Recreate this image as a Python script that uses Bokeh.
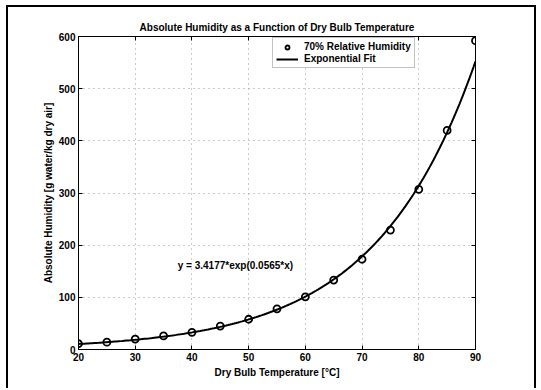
import numpy as np
from bokeh.plotting import figure
from bokeh.models import (Range1d, LinearAxis, Label, Legend, LegendItem, ColumnDataSource,
                          FixedTicker, CustomJSTickFormatter)
from bokeh.embed import file_html
from bokeh.resources import INLINE

# Data
temp_c = [20, 25, 30, 35, 40, 45, 50, 55, 60, 65, 70, 75, 80, 85, 90]
abs_humidity = [11, 14, 20, 26, 33, 45, 58, 78, 101, 133, 173, 229, 307, 420, 592]
fit_coeffs = [3.4177, 0.0565]  # y = a*exp(b*x), as printed on the chart
x_ticks = [20, 30, 40, 50, 60, 70, 80, 90]
y_ticks = [0, 100, 200, 300, 400, 500, 600]

FONT = "Liberation Sans"

fit_x = np.linspace(20, 90, 200)
fit_y = fit_coeffs[0] * np.exp(fit_coeffs[1] * fit_x)

p = figure(width=530, height=383, output_backend="svg", toolbar_location=None,
           x_range=Range1d(20, 90), y_range=Range1d(0, 600),
           min_border_left=70, min_border_right=63, min_border_top=29, min_border_bottom=41)
p.styles = {"margin-left": "6px", "margin-top": "5px",
            "border-left": "2px solid black", "border-top": "2px solid black",
            "border-right": "2px solid black"}

p.title.text = "Absolute Humidity as a Function of Dry Bulb Temperature"
p.title.align = "center"
p.title.text_font = FONT
p.title.text_font_size = "10px"
p.title.text_font_style = "bold"
p.title.text_color = "black"
p.title.standoff = 7

p.outline_line_color = "black"
p.outline_line_width = 1

for ax in (p.xaxis[0], p.yaxis[0]):
    ax.major_label_text_font = FONT
    ax.major_label_text_font_size = "10px"
    ax.major_label_text_font_style = "bold"
    ax.major_label_text_color = "black"
    ax.axis_label_text_font = FONT
    ax.axis_label_text_font_size = "10px"
    ax.axis_label_text_font_style = "bold"
    ax.axis_label_text_color = "black"
    ax.axis_line_color = "black"
    ax.major_tick_in = 4
    ax.major_tick_out = 0
    ax.minor_tick_line_color = None
    ax.major_label_standoff = 3

p.xaxis[0].ticker = FixedTicker(ticks=x_ticks)
p.yaxis[0].ticker = FixedTicker(ticks=y_ticks)
p.xaxis[0].axis_label = "Dry Bulb Temperature [°C]"
p.yaxis[0].axis_label = "Absolute Humidity [g water/kg dry air]"
p.xaxis[0].axis_label_standoff = 3
p.yaxis[0].axis_label_standoff = 2

blank = CustomJSTickFormatter(code="return ''")
for loc in ("above", "right"):
    a = LinearAxis(ticker=FixedTicker(ticks=x_ticks if loc == "above" else y_ticks),
                   formatter=blank, major_tick_in=4, major_tick_out=0,
                   minor_tick_line_color=None, axis_line_color="black")
    p.add_layout(a, loc)

p.xgrid.ticker = FixedTicker(ticks=x_ticks)
p.ygrid.ticker = FixedTicker(ticks=y_ticks)
for g in (p.xgrid[0], p.ygrid[0]):
    g.grid_line_color = "#999999"
    g.grid_line_dash = "1 4"
    g.grid_line_width = 1

fit_src = ColumnDataSource(dict(x=fit_x, y=fit_y))
pts_src = ColumnDataSource(dict(x=temp_c, y=abs_humidity))

r_line = p.line("x", "y", source=fit_src, line_color="black", line_width=2)
r_pts = p.scatter("x", "y", source=pts_src, marker="circle", size=7,
                  fill_color="white", fill_alpha=0, line_color="black", line_width=1.8)

eq = Label(x=37.5, y=161, text="y = 3.4177*exp(0.0565*x)", text_font=FONT,
           text_font_size="10px", text_font_style="bold", text_baseline="middle",
           text_align="left", text_color="black")
p.add_layout(eq)

legend = Legend(items=[LegendItem(label="70% Relative Humidity", renderers=[r_pts]),
                       LegendItem(label="Exponential Fit", renderers=[r_line])],
                location=(194, 281), label_text_font=FONT, label_text_font_size="10px",
                label_text_font_style="bold", label_text_color="black",
                label_height=10, glyph_height=10,
                glyph_width=22, spacing=1, padding=3, margin=0, label_standoff=6,
                border_line_color="#888888", border_line_width=1,
                background_fill_color="white", background_fill_alpha=1)
p.add_layout(legend, "center")

open("out.html", "w").write(file_html(p, INLINE))
